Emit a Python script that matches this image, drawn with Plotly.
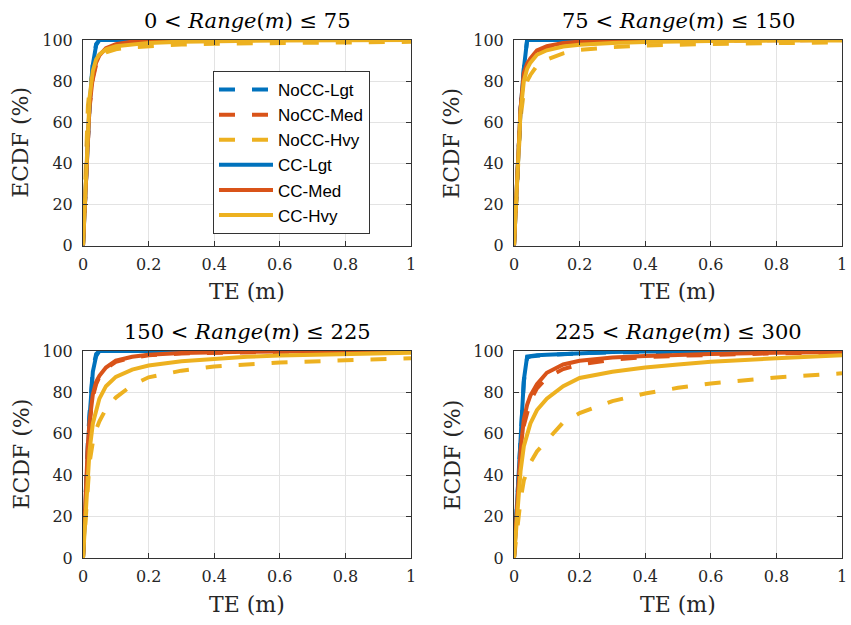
import plotly.graph_objects as go

# Shared TE grid (m)
TE = [0, 0.005, 0.01, 0.015, 0.02, 0.03, 0.04, 0.05, 0.07, 0.1, 0.15, 0.2, 0.3, 0.4, 0.5, 0.6, 0.8, 1.0]

SERIES = ["NoCC-Lgt", "NoCC-Med", "NoCC-Hvy", "CC-Lgt", "CC-Med", "CC-Hvy"]
TITLES = ["0 &lt; <i>Range</i>(<i>m</i>) ≤ 75",
          "75 &lt; <i>Range</i>(<i>m</i>) ≤ 150",
          "150 &lt; <i>Range</i>(<i>m</i>) ≤ 225",
          "225 &lt; <i>Range</i>(<i>m</i>) ≤ 300"]
X_TICKS = [0, 0.2, 0.4, 0.6, 0.8, 1]
X_TICKTEXT = ["0", "0.2", "0.4", "0.6", "0.8", "1"]
Y_TICKS = [0, 20, 40, 60, 80, 100]

# ECDF (%) values at TE grid, panel 1: 0 < Range <= 75
P1_NOCC_LGT = [0, 16, 34, 52, 70, 89, 98, 100, 100, 100, 100, 100, 100, 100, 100, 100, 100, 100]
P1_NOCC_MED = [0, 18, 37, 54, 67, 81, 88, 92, 95.5, 97.5, 98.8, 99.4, 99.8, 100, 100, 100, 100, 100]
P1_NOCC_HVY = [0, 25, 50, 68, 76, 85, 89, 91.5, 94, 95.5, 96.5, 97, 97.8, 98.2, 98.4, 98.6, 98.9, 99.1]
P1_CC_LGT = [0, 15, 32, 50, 68, 88, 97.5, 100, 100, 100, 100, 100, 100, 100, 100, 100, 100, 100]
P1_CC_MED = [0, 18, 38, 55, 68, 82, 89, 92.5, 96, 98, 99.2, 99.7, 100, 100, 100, 100, 100, 100]
P1_CC_HVY = [0, 20, 42, 60, 72, 85, 90.5, 93, 95.5, 97, 98, 98.6, 99.2, 99.5, 99.7, 99.8, 99.9, 100]

# panel 2: 75 < Range <= 150
P2_NOCC_LGT = [0, 18, 36, 52, 66, 86, 100, 100, 100, 100, 100, 100, 100, 100, 100, 100, 100, 100]
P2_NOCC_MED = [0, 16, 35, 53, 66, 82, 87, 90, 94, 96.3, 98, 98.8, 99.4, 99.6, 99.7, 99.8, 99.9, 100]
P2_NOCC_HVY = [0, 15, 33, 50, 62, 75, 80, 83, 87.5, 90.5, 93.5, 95.2, 96.5, 97.3, 97.8, 98.1, 98.5, 98.8]
P2_CC_LGT = [0, 18, 36, 52, 66, 86, 100, 100, 100, 100, 100, 100, 100, 100, 100, 100, 100, 100]
P2_CC_MED = [0, 16, 36, 54, 67, 84, 88.5, 91, 95, 97, 98.5, 99.2, 99.6, 99.8, 99.9, 100, 100, 100]
P2_CC_HVY = [0, 15, 35, 52, 65, 80, 86, 89, 92.8, 95, 96.8, 97.7, 98.6, 99, 99.3, 99.5, 99.7, 99.8]

# panel 3: 150 < Range <= 225
P3_NOCC_LGT = [0, 21, 40, 57, 70, 91, 98.5, 100, 100, 100, 100, 100, 100, 100, 100, 100, 100, 100]
P3_NOCC_MED = [0, 19, 39, 54, 65, 78, 84, 87.5, 91.5, 94.8, 96.8, 97.9, 98.8, 99.2, 99.5, 99.6, 99.8, 99.9]
P3_NOCC_HVY = [0, 12, 25, 37, 46, 56, 62, 66, 72, 77.5, 83.5, 87.3, 90.5, 92.5, 93.6, 94.4, 95.5, 96.5]
P3_CC_LGT = [0, 20, 38, 55, 68, 90, 97.5, 100, 100, 100, 100, 100, 100, 100, 100, 100, 100, 100]
P3_CC_MED = [0, 20, 40, 55, 66, 79, 85, 88, 92, 95.3, 97.2, 98.2, 99, 99.4, 99.6, 99.7, 99.9, 100]
P3_CC_HVY = [0, 15, 30, 43, 52, 65, 72, 77, 83, 87.5, 91, 93, 95, 96.3, 97.2, 97.8, 98.6, 99.2]

# panel 4: 225 < Range <= 300
P4_NOCC_LGT = [0, 14, 28, 42, 56, 85, 96.8, 97.3, 97.7, 98, 98.5, 98.9, 99.4, 99.6, 99.8, 99.9, 100, 100]
P4_NOCC_MED = [0, 13, 26, 38, 49, 64, 71, 76, 82, 87, 91.3, 93.5, 95.8, 97, 97.7, 98.2, 98.9, 99.3]
P4_NOCC_HVY = [0, 7, 15, 22, 28, 37.5, 42, 46, 51.5, 57, 65.5, 70, 75.8, 79.5, 82.2, 84.3, 87.2, 89.2]
P4_CC_LGT = [0, 14, 28.5, 43, 57, 86, 97.3, 97.6, 97.9, 98.2, 98.6, 99, 99.5, 99.7, 99.8, 99.9, 100, 100]
P4_CC_MED = [0, 14, 28, 40, 52, 67, 74, 78.5, 84, 89.5, 93.5, 95.3, 96.8, 97.6, 98.2, 98.6, 99.2, 99.5]
P4_CC_HVY = [0, 12, 24, 34, 42, 54, 60.5, 65, 71.5, 77, 83, 87, 90, 92, 93.5, 94.8, 96.5, 98]

PANELS = [
    [P1_NOCC_LGT, P1_NOCC_MED, P1_NOCC_HVY, P1_CC_LGT, P1_CC_MED, P1_CC_HVY],
    [P2_NOCC_LGT, P2_NOCC_MED, P2_NOCC_HVY, P2_CC_LGT, P2_CC_MED, P2_CC_HVY],
    [P3_NOCC_LGT, P3_NOCC_MED, P3_NOCC_HVY, P3_CC_LGT, P3_CC_MED, P3_CC_HVY],
    [P4_NOCC_LGT, P4_NOCC_MED, P4_NOCC_HVY, P4_CC_LGT, P4_CC_MED, P4_CC_HVY],
]

COLORS = ["#0072BD", "#D95319", "#EDB120", "#0072BD", "#D95319", "#EDB120"]
DASHES = ["16px,17px", "16px,17px", "16px,17px", "solid", "solid", "solid"]

W, H = 851, 625
# plot-area pixel boxes (left, right, top, bottom)
BOXES = [(83, 411, 40, 245.6), (514, 842, 40, 245.6),
         (83, 411, 351, 558), (514, 842, 351, 558)]

SERIF = "DejaVu Serif"
SANS = "Liberation Sans"
AXC = "#333333"


def px(x):
    return x / W


def py(y):
    return 1 - y / H


fig = go.Figure()
annotations = []
for i, (vals, box) in enumerate(zip(PANELS, BOXES)):
    sfx = "" if i == 0 else str(i + 1)
    for j, (name, y) in enumerate(zip(SERIES, vals)):
        fig.add_trace(go.Scatter(
            x=TE, y=y, mode="lines", name=name,
            line=dict(color=COLORS[j], width=4, dash=DASHES[j]),
            xaxis="x" + sfx, yaxis="y" + sfx,
            showlegend=(i == 0), legendrank=j + 1,
        ))
    l, r, t, b = box
    common = dict(showline=True, linecolor=AXC, linewidth=1, mirror="ticks",
                  ticks="inside", ticklen=5, tickcolor=AXC, tickwidth=1,
                  showgrid=True, gridcolor="#e3e3e3", gridwidth=1, zeroline=False,
                  automargin=False,
                  tickfont=dict(family=SERIF, size=16, color="#262626"))
    fig.layout["xaxis" + sfx] = dict(domain=[px(l), px(r)], range=[0, 1], tickvals=X_TICKS,
                                      ticktext=X_TICKTEXT, anchor="y" + sfx, ticklabelstandoff=4, **common)
    fig.layout["yaxis" + sfx] = dict(domain=[py(b), py(t)], range=[0, 100], tickvals=Y_TICKS,
                                      anchor="x" + sfx, ticklabelstandoff=6, **common)
    cx = px((l + r) / 2)
    annotations.append(dict(text=TITLES[i], x=cx, y=py(t - 19), xref="paper", yref="paper",
                            xanchor="center", yanchor="middle", showarrow=False,
                            font=dict(family=SERIF, size=21, color="#000000")))
    annotations.append(dict(text="TE (m)", x=cx, y=py(b + 46), xref="paper", yref="paper",
                            xanchor="center", yanchor="middle", showarrow=False,
                            font=dict(family=SERIF, size=22, color="#262626")))
    annotations.append(dict(text="ECDF (%)", x=px(l - 62), y=py((t + b) / 2), xref="paper", yref="paper",
                            xanchor="center", yanchor="middle", showarrow=False, textangle=-90,
                            font=dict(family=SERIF, size=22, color="#262626")))

fig.update_layout(
    width=W, height=H, margin=dict(l=0, r=0, t=0, b=0, autoexpand=False),
    paper_bgcolor="white", plot_bgcolor="white",
    annotations=annotations,
    legend=dict(x=px(213), y=py(71), xanchor="left", yanchor="top",
                bgcolor="white", bordercolor=AXC, borderwidth=1,
                font=dict(family=SANS, size=17, color="#000000"),
                tracegroupgap=0, itemwidth=54),
)

fig.write_html("out.html")
